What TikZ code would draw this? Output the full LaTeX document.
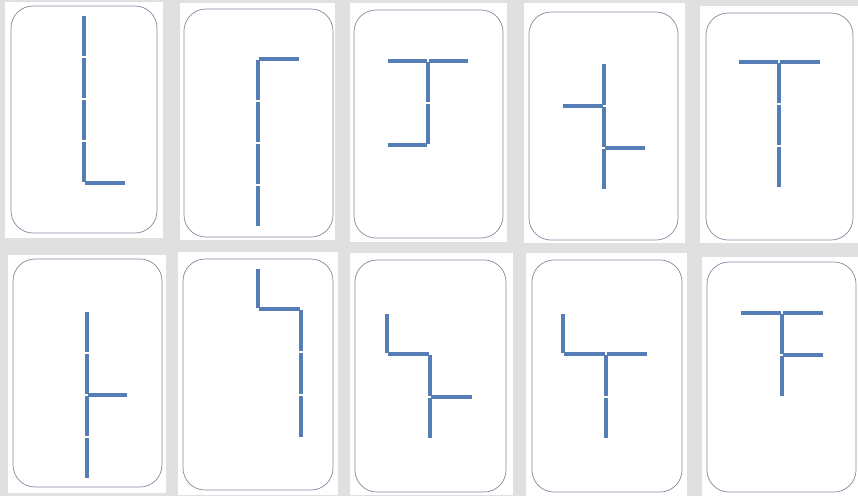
\documentclass[tikz,border=0pt]{standalone}
\definecolor{bgray}{RGB}{224,224,224}
\definecolor{segblue}{RGB}{86,126,182}
\definecolor{frameline}{RGB}{128,140,160}
\tikzset{
  panel/.style={fill=white, draw=none},
  cardframe/.style={draw=frameline, line width=0.7pt, rounded corners=22pt},
  seg/.style={draw=segblue, line width=3.3pt, line cap=butt, shorten <=1.1pt, shorten >=1.1pt}
}
\begin{document}
\begin{tikzpicture}[x=1pt,y=-1pt]
\fill[bgray] (0,0) rectangle (858,496);
\useasboundingbox (0,0) rectangle (858,496);
% white panels
\fill[panel] (5,2) rectangle (163,238);
\fill[panel] (180,3) rectangle (335,240);
\fill[panel] (350,3) rectangle (507,242);
\fill[panel] (524,3) rectangle (685,243);
\fill[panel] (700,6) rectangle (858,243);
\fill[panel] (8,255) rectangle (166,493);
\fill[panel] (178,252) rectangle (338,495);
\fill[panel] (350,253) rectangle (513,495);
\fill[panel] (526,253) rectangle (687,496);
\fill[panel] (702,257) rectangle (858,496);
% card frames
\draw[cardframe] (11,6) rectangle (157,233);
\draw[cardframe] (184,9) rectangle (333,237);
\draw[cardframe] (354,10) rectangle (503,238);
\draw[cardframe] (529,12) rectangle (678,240);
\draw[cardframe] (706,13) rectangle (853,240);
\draw[cardframe] (13,259) rectangle (162,487);
\draw[cardframe] (183,259) rectangle (333,490);
\draw[cardframe] (355,260) rectangle (506,492);
\draw[cardframe] (532,260) rectangle (682,492);
\draw[cardframe] (707,262) rectangle (856,492);
% panel 1
\draw[seg] (84,15) -- (84,57);
\draw[seg] (84,57) -- (84,99);
\draw[seg] (84,99) -- (84,141);
\draw[seg] (84,141) -- (84,183);
\draw[seg] (84,183) -- (126,183);
% panel 2
\draw[seg] (258,59) -- (300,59);
\draw[seg] (258,59) -- (258,101);
\draw[seg] (258,101) -- (258,143);
\draw[seg] (258,143) -- (258,185);
\draw[seg] (258,185) -- (258,227);
% panel 3
\draw[seg] (387,61) -- (428,61);
\draw[seg] (428,61) -- (469,61);
\draw[seg] (428,61) -- (428,103);
\draw[seg] (428,103) -- (428,145);
\draw[seg] (387,145) -- (428,145);
% panel 4
\draw[seg] (604,63) -- (604,106);
\draw[seg] (604,106) -- (604,148);
\draw[seg] (604,148) -- (604,190);
\draw[seg] (562,106) -- (604,106);
\draw[seg] (604,148) -- (646,148);
% panel 5
\draw[seg] (738,62) -- (779,62);
\draw[seg] (779,62) -- (821,62);
\draw[seg] (779,62) -- (779,104);
\draw[seg] (779,104) -- (779,146);
\draw[seg] (779,146) -- (779,188);
% panel 6
\draw[seg] (87,311) -- (87,353);
\draw[seg] (87,353) -- (87,395);
\draw[seg] (87,395) -- (87,437);
\draw[seg] (87,437) -- (87,479);
\draw[seg] (87,395) -- (128,395);
% panel 7
\draw[seg] (258,268) -- (258,309);
\draw[seg] (258,309) -- (301,309);
\draw[seg] (301,309) -- (301,352);
\draw[seg] (301,352) -- (301,395);
\draw[seg] (301,395) -- (301,438);
% panel 8
\draw[seg] (387,313) -- (387,354);
\draw[seg] (387,354) -- (430,354);
\draw[seg] (430,354) -- (430,397);
\draw[seg] (430,397) -- (430,439);
\draw[seg] (430,397) -- (473,397);
% panel 9
\draw[seg] (563,313) -- (563,354);
\draw[seg] (563,354) -- (606,354);
\draw[seg] (606,354) -- (648,354);
\draw[seg] (606,354) -- (606,397);
\draw[seg] (606,397) -- (606,439);
% panel 10
\draw[seg] (740,313) -- (782,313);
\draw[seg] (782,313) -- (824,313);
\draw[seg] (782,313) -- (782,355);
\draw[seg] (782,355) -- (824,355);
\draw[seg] (782,355) -- (782,397);
\end{tikzpicture}
\end{document}
